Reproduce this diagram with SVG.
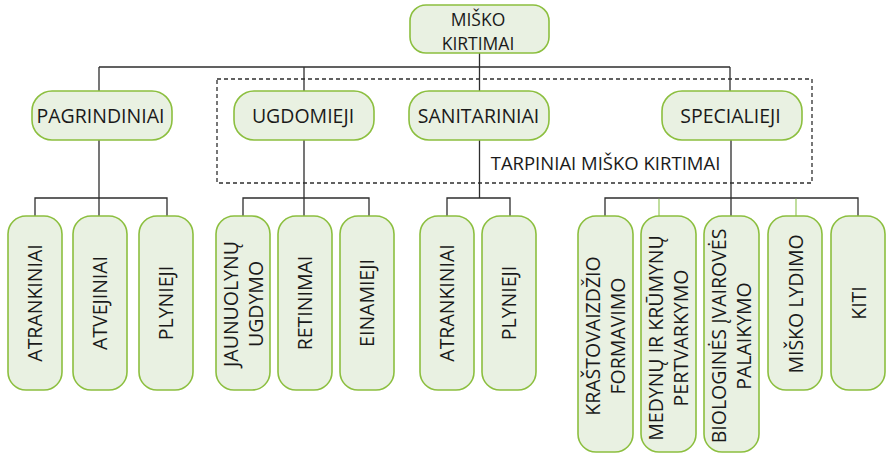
<svg xmlns="http://www.w3.org/2000/svg" width="888" height="454" viewBox="0 0 888 454">
<style>
.n rect{fill:#e9f1e2;stroke:#8cbf3f;stroke-width:1.6}
text{font-family:"Open Sans","Liberation Sans",sans-serif;font-size:19.5px;fill:#1a1a1a;text-anchor:middle}
.c{stroke:#2e2e2e;stroke-width:1.3;fill:none}
.g{stroke:#9fcd6a;stroke-width:1.3;fill:none}
</style>
<rect x="217" y="79" width="595" height="104" fill="none" stroke="#2e2e2e" stroke-width="1.3" stroke-dasharray="4,3"/>
<text x="605.5" y="170" style="font-size:18.5px">TARPINIAI MIŠKO KIRTIMAI</text>
<g id="connectors">
<path class="c" d="M479.5,53V91M479.5,140V198M99,67H730M99,67V91M304,67V91M730,67V91"/>
<path class="c" d="M99,140V216M35,216V198H167V216"/>
<path class="c" d="M304,140V216M243,216V198H369V216"/>
<path class="c" d="M447,216V198H510V216"/>
<path class="c" d="M731,140V216M605,216V198H858V216"/>
<path class="g" d="M659,198.7V216M796,198.7V216"/>
</g>
<g id="n-top" class="n"><rect x="410" y="5" width="139" height="48" rx="16"/><text style="font-size:17.5px"><tspan x="478" y="26">MIŠKO</tspan><tspan x="478" y="50">KIRTIMAI</tspan></text></g>
<g id="n-pagrindiniai" class="n"><rect x="32" y="91" width="140" height="49" rx="20"/><text x="100.5" y="123">PAGRINDINIAI</text></g>
<g id="n-ugdomieji" class="n"><rect x="234" y="91" width="140" height="49" rx="20"/><text x="303" y="123">UGDOMIEJI</text></g>
<g id="n-sanitariniai" class="n"><rect x="409" y="91" width="140" height="49" rx="20"/><text x="478.5" y="123">SANITARINIAI</text></g>
<g id="n-specialieji" class="n"><rect x="662" y="91" width="140" height="49" rx="20"/><text x="730.5" y="123">SPECIALIEJI</text></g>
<g id="l-atrankiniai1" class="n"><rect x="8" y="216" width="54" height="174" rx="18"/><text transform="translate(42,303) rotate(-90)">ATRANKINIAI</text></g>
<g id="l-atvejiniai" class="n"><rect x="73" y="216" width="54" height="174" rx="18"/><text transform="translate(107,303) rotate(-90)">ATVEJINIAI</text></g>
<g id="l-plynieji1" class="n"><rect x="139" y="216" width="54" height="174" rx="18"/><text transform="translate(173,303) rotate(-90)">PLYNIEJI</text></g>
<g id="l-jaunuolynu" class="n"><rect x="216" y="216" width="54" height="174" rx="18"/><text transform="translate(237.5,304) rotate(-90)"><tspan x="0" y="0">JAUNUOLYNŲ</tspan><tspan x="0" y="25">UGDYMO</tspan></text></g>
<g id="l-retinimai" class="n"><rect x="278" y="216" width="54" height="174" rx="18"/><text transform="translate(312,303) rotate(-90)">RETINIMAI</text></g>
<g id="l-einamieji" class="n"><rect x="340" y="216" width="54" height="174" rx="18"/><text transform="translate(374,303) rotate(-90)">EINAMIEJI</text></g>
<g id="l-atrankiniai2" class="n"><rect x="420" y="216" width="54" height="174" rx="18"/><text transform="translate(454,303) rotate(-90)">ATRANKINIAI</text></g>
<g id="l-plynieji2" class="n"><rect x="482" y="216" width="54" height="174" rx="18"/><text transform="translate(516,303) rotate(-90)">PLYNIEJI</text></g>
<g id="l-krastovaizdzio" class="n"><rect x="578" y="216" width="55" height="236" rx="18"/><text transform="translate(600,336) rotate(-90)"><tspan x="0" y="0">KRAŠTOVAIZDŽIO</tspan><tspan x="0" y="25">FORMAVIMO</tspan></text></g>
<g id="l-medynu" class="n"><rect x="641" y="216" width="55" height="236" rx="18"/><text transform="translate(663,338) rotate(-90)"><tspan x="0" y="0">MEDYNŲ IR KRŪMYNŲ</tspan><tspan x="0" y="25">PERTVARKYMO</tspan></text></g>
<g id="l-biologines" class="n"><rect x="704" y="216" width="55" height="236" rx="18"/><text transform="translate(726,336) rotate(-90)"><tspan x="0" y="0">BIOLOGINĖS ĮVAIROVĖS</tspan><tspan x="0" y="25">PALAIKYMO</tspan></text></g>
<g id="l-lydimo" class="n"><rect x="768" y="216" width="54" height="174" rx="18"/><text transform="translate(803,304) rotate(-90)">MIŠKO LYDIMO</text></g>
<g id="l-kiti" class="n"><rect x="831" y="216" width="54" height="174" rx="18"/><text transform="translate(866,303) rotate(-90)">KITI</text></g>
</svg>
